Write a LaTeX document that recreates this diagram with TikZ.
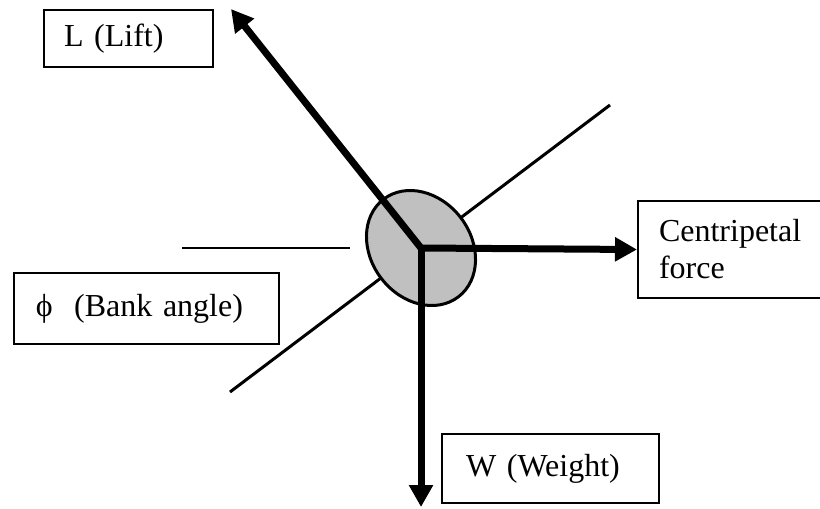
\documentclass[tikz,border=0pt]{standalone}
\usepackage{fontspec}
\setmainfont{Liberation Serif}
\usetikzlibrary{shapes.geometric,arrows.meta}
\definecolor{bodygray}{HTML}{C0C0C0}
\tikzset{
    tagbox/.style={draw, line width=1.5pt, align=left, anchor=north west,
        inner ysep=0pt, font=\fontsize{24pt}{27.75pt}\selectfont},
    force/.style={line width=5.25pt, -{Triangle[length=16.5pt,width=17.25pt]}}
}

\begin{document}
\begin{tikzpicture}[x=0.75pt, y=-0.75pt]
            \clip (0,0) rectangle (820,508);

            \coordinate (wingl) at (230,392);
            \coordinate (wingr) at (610,105);
            \coordinate (levell) at (182,248);
            \coordinate (levelr) at (350,248);
            \draw[line width=2.25pt] (wingl) -- (wingr);
            \draw[line width=1.5pt] (levell) -- (levelr);

            \node[tagbox, inner xsep=15pt, text width=96.75pt,
                minimum height=42.75pt] (lift) at (43,9) {L (Lift)};
            \node[tagbox, inner xsep=16.5pt, text width=165.75pt,
                minimum height=53.25pt] (bank) at (13,272) {ϕ\ \ (Bank angle)};
            \node[tagbox, inner xsep=15.75pt, text width=113.25pt,
                minimum height=72.75pt] (centri) at (637,200) {Centripetal\\force};
            \node[tagbox, inner xsep=18pt, text width=126.75pt,
                minimum height=51.75pt] (weight) at (441,433) {W (Weight)};

            \node[ellipse, draw, fill=bodygray, line width=2.25pt, inner sep=0pt,
                minimum width=92.25pt, minimum height=75pt, rotate=-52.5]
                (body) at (421,248) {};

            \coordinate (liftend) at (231,9);
            \coordinate (weightend) at (421,507);
            \draw[force] (body.center) -- (liftend);
            \draw[force] (body.center) -- (centri.west);
            \draw[force] (body.center) -- (weightend);
        \end{tikzpicture}
\end{document}
